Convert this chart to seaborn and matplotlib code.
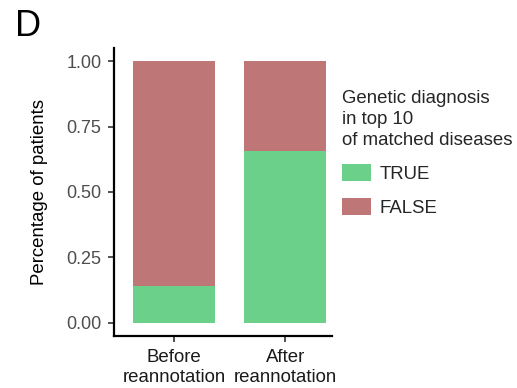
import matplotlib
matplotlib.use("Agg")
import matplotlib.pyplot as plt
import seaborn as sns
import pandas as pd
from matplotlib.patches import Patch

# Data
categories = ["Before\nreannotation", "After\nreannotation"]
true_share = [0.14, 0.655]
false_share = [0.86, 0.345]
legend_labels = ["TRUE", "FALSE"]
y_ticks = [0.00, 0.25, 0.50, 0.75, 1.00]
y_tick_labels = ["0.00", "0.25", "0.50", "0.75", "1.00"]

GREEN = "#6BD18A"
RED = "#BF7676"

sns.set_theme(style="white")
plt.rcParams["font.family"] = ["Liberation Sans", "DejaVu Sans"]

df = pd.DataFrame({
    "category": categories,
    "true": true_share,
    "total": [t + f for t, f in zip(true_share, false_share)],
})

fig = plt.figure(figsize=(5.17, 3.88), dpi=100)
ax = fig.add_axes([114 / 517, 52 / 388, (332 - 114) / 517, (336 - 48) / 388])

sns.barplot(data=df, x="category", y="total", color=RED, width=0.74,
            saturation=1, linewidth=0, ax=ax, order=categories)
sns.barplot(data=df, x="category", y="true", color=GREEN, width=0.74,
            saturation=1, linewidth=0, ax=ax, order=categories)

ax.set_ylim(-0.05, 1.05)
ax.set_xlim(-0.54, 1.42)
ax.set_yticks(y_ticks)
ax.set_yticklabels(y_tick_labels)
ax.set_xlabel("")
ax.set_ylabel("Percentage of patients", fontsize=13.4, color="black", labelpad=13)

for s in ["top", "right"]:
    ax.spines[s].set_visible(False)
for s in ["left", "bottom"]:
    ax.spines[s].set_color("black")
    ax.spines[s].set_linewidth(1.6)

ax.tick_params(axis="y", which="both", left=True, length=4, width=1.2,
               color="#333333", labelsize=13, labelcolor="#4D4D4D", pad=5)
ax.tick_params(axis="x", which="both", bottom=True, length=4, width=1.2,
               color="#333333", labelsize=13.4, labelcolor="#1A1A1A", pad=5)
for t in ax.get_xticklabels():
    t.set_linespacing(1.3)

handles = [Patch(facecolor=GREEN, edgecolor="none"),
           Patch(facecolor=RED, edgecolor="none")]
leg = fig.legend(handles, legend_labels,
                 title="Genetic diagnosis\nin top 10\nof matched diseases",
                 loc="upper left", bbox_to_anchor=(342 / 517, 1 - 90 / 388),
                 frameon=False, fontsize=13.4, title_fontsize=13.4,
                 handlelength=1.56, handleheight=1.05, handletextpad=0.45,
                 labelspacing=0.8, borderpad=0, borderaxespad=0,
                 alignment="left")
leg.get_title().set_linespacing(1.3)

fig.text(15 / 517, 1 - 9 / 388, "D", fontsize=26, va="top", ha="left",
         color="black")

fig.savefig("out.png", dpi=100)
